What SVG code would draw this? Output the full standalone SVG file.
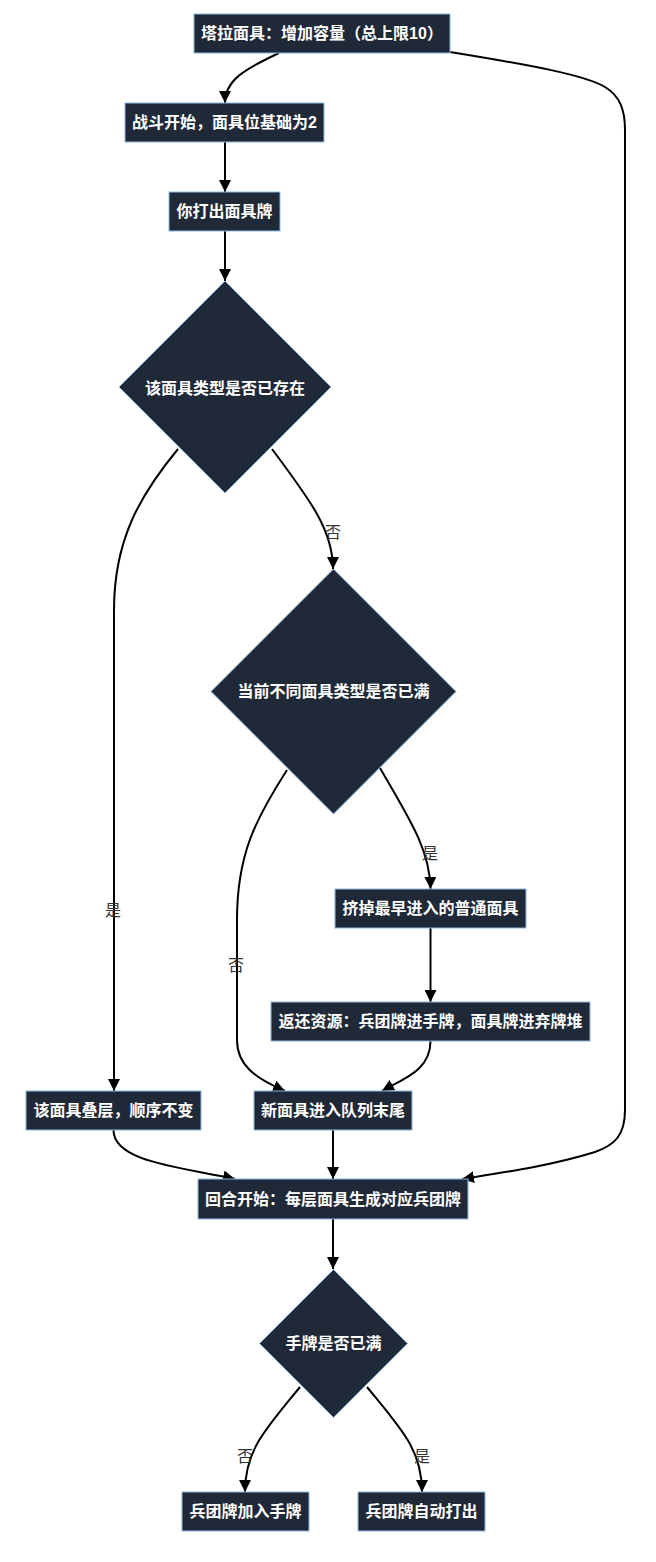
<svg xmlns="http://www.w3.org/2000/svg" width="656" height="1562" viewBox="0 0 656 1562">
<style>
.node rect, .node polygon { fill: #1f2937; stroke: #8fb9e6; stroke-width: 1; }
.node text { fill: #ffffff; font-family: "Liberation Sans", "Noto Sans CJK SC", sans-serif; font-size: 16px; font-weight: bold; text-anchor: middle; dominant-baseline: central; }
.edge { fill: none; stroke: #000000; stroke-width: 2; marker-end: url(#arrow); }
.elabel { fill: #333333; font-family: "Liberation Sans", "Noto Sans CJK SC", sans-serif; font-size: 16px; text-anchor: middle; dominant-baseline: central; }
</style>
<defs>
<marker id="arrow" viewBox="0 0 10 10" refX="10" refY="5" markerWidth="12" markerHeight="12" markerUnits="userSpaceOnUse" orient="auto">
<path d="M0,0 L10,5 L0,10 z" fill="#000000"/>
</marker>
</defs>
<rect width="656" height="1562" fill="#ffffff"/>
<g id="connectors">
<path class="edge" d="M279,53 C245,69 225,80 225,103"/>
<path class="edge" d="M225,142 L225,192"/>
<path class="edge" d="M225,231 L225,281"/>
<path class="edge" d="M178,449 C140,495 114,540 114,610 L114,1091"/>
<path class="edge" d="M272,449 C310,500 333,530 333,569"/>
<path class="edge" d="M380,768 C410,820 430,850 430.5,889"/>
<path class="edge" d="M287,770 C255,820 237,855 237,920 L237,1040 C237,1065 255,1078 285,1091"/>
<path class="edge" d="M430.5,928 L430.5,1002"/>
<path class="edge" d="M430.5,1041 C430.5,1070 405,1078 382,1091"/>
<path class="edge" d="M113.5,1130 C113.5,1162 180,1167 235,1179"/>
<path class="edge" d="M333,1130 L333,1179"/>
<path class="edge" d="M450,52 C530,65 585,75 605,87 C620,96 625,110 625,130 L625,1110 C625,1135 615,1145 595,1152 C550,1166 500,1173 462,1179"/>
<path class="edge" d="M333,1219 L333,1269"/>
<path class="edge" d="M300,1387 C265,1430 245,1450 245,1492"/>
<path class="edge" d="M367,1387 C402,1430 422,1450 422,1492"/>
<text class="elabel" x="113" y="910">是</text>
<text class="elabel" x="333" y="532">否</text>
<text class="elabel" x="430" y="853">是</text>
<text class="elabel" x="236" y="965">否</text>
<text class="elabel" x="245" y="1456">否</text>
<text class="elabel" x="422" y="1456">是</text>
</g>
<g id="n_tala" class="node"><rect x="194" y="14" width="256" height="39"/><text x="322" y="33.5">塔拉面具：增加容量（总上限10）</text></g>
<g id="n_start" class="node"><rect x="125" y="103" width="199" height="39"/><text x="224.5" y="122.5">战斗开始，面具位基础为2</text></g>
<g id="n_play" class="node"><rect x="169" y="192" width="111" height="39"/><text x="224.5" y="211.5">你打出面具牌</text></g>
<g id="d_exists" class="node"><polygon points="225,281 331,387 225,493 119,387"/><text x="225" y="388">该面具类型是否已存在</text></g>
<g id="d_full" class="node"><polygon points="333.5,569 456,691.5 333.5,814 211,691.5"/><text x="333.5" y="691.5">当前不同面具类型是否已满</text></g>
<g id="n_evict" class="node"><rect x="335" y="889" width="191" height="39"/><text x="430.5" y="908.5">挤掉最早进入的普通面具</text></g>
<g id="n_return" class="node"><rect x="271" y="1002" width="319" height="39"/><text x="430.5" y="1021.5">返还资源：兵团牌进手牌，面具牌进弃牌堆</text></g>
<g id="n_stack" class="node"><rect x="26" y="1091" width="175" height="39"/><text x="113.5" y="1110.5">该面具叠层，顺序不变</text></g>
<g id="n_new" class="node"><rect x="254" y="1091" width="158" height="39"/><text x="333" y="1110.5">新面具进入队列末尾</text></g>
<g id="n_round" class="node"><rect x="198" y="1179" width="270" height="40"/><text x="333" y="1199">回合开始：每层面具生成对应兵团牌</text></g>
<g id="d_hand" class="node"><polygon points="333.5,1269.5 407.5,1343.5 333.5,1417.5 259.5,1343.5"/><text x="333.5" y="1343.5">手牌是否已满</text></g>
<g id="n_addhand" class="node"><rect x="182" y="1492" width="127" height="39"/><text x="245.5" y="1511.5">兵团牌加入手牌</text></g>
<g id="n_autoplay" class="node"><rect x="358" y="1492" width="127" height="39"/><text x="421.5" y="1511.5">兵团牌自动打出</text></g>
</svg>
